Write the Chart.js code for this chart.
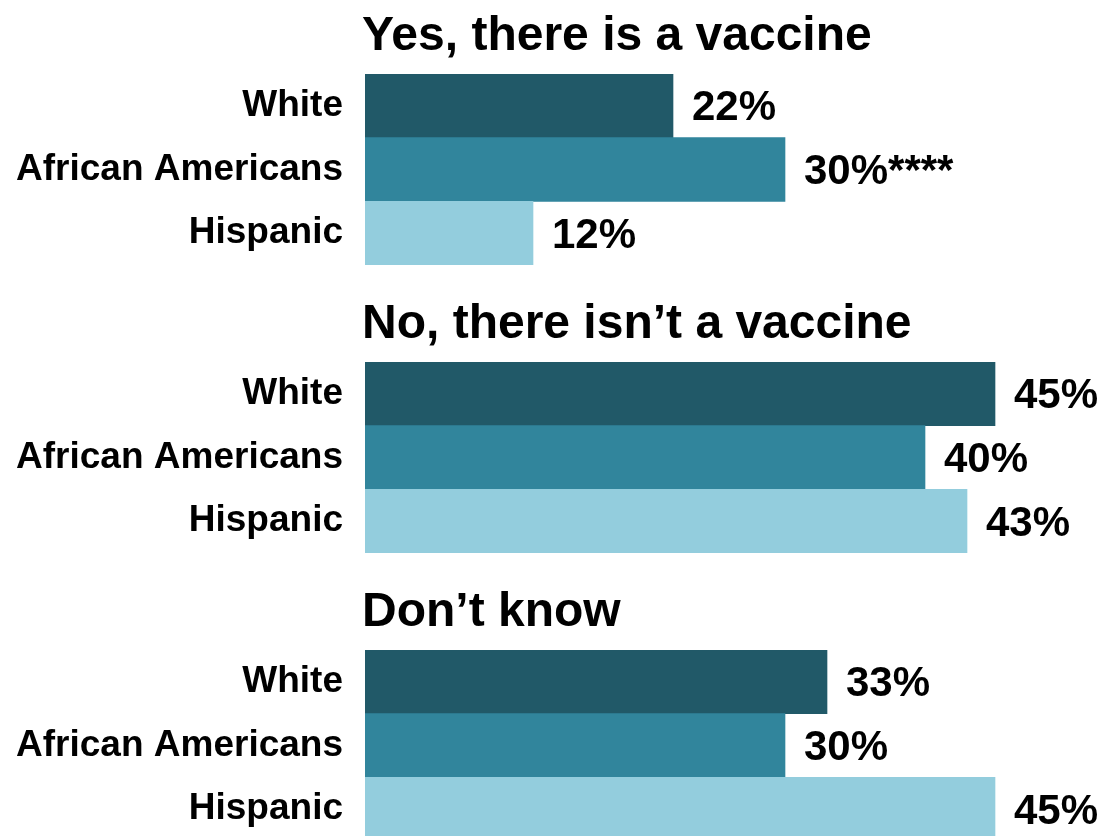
<!DOCTYPE html>
<html>
<head>
<meta charset="utf-8">
<script src="https://cdn.jsdelivr.net/npm/chart.js@4/dist/chart.umd.min.js"></script>
<style>
  html, body { margin: 0; padding: 0; background: #fff; overflow: hidden; }
  body { width: 1103px; height: 836px; position: relative; }
  .panel { position: absolute; left: 0; width: 1103px; height: 280px; }
</style>
</head>
<body>
<div class="panel" style="top:0px"><canvas id="c0"></canvas></div>
<div class="panel" style="top:288px"><canvas id="c1"></canvas></div>
<div class="panel" style="top:576px"><canvas id="c2"></canvas></div>
<script>
const groups = ["White", "African Americans", "Hispanic"];
const panelTitles = ["Yes, there is a vaccine", "No, there isn\u2019t a vaccine", "Don\u2019t know"];
const yesValues = [22, 30, 12];
const noValues = [45, 40, 43];
const dontKnowValues = [33, 30, 45];
const yesSuffixes = ["", "****", ""];
const noSuffixes = ["", "", ""];
const dontKnowSuffixes = ["", "", ""];
const barColors = ["#215968", "#31859C", "#93CDDD"];

const FONT = "'Liberation Sans', Arial, Helvetica, sans-serif";

const overlayPlugin = {
  id: 'overlay',
  afterDatasetsDraw(chart, args, opts) {
    const ctx = chart.ctx;
    const area = chart.chartArea;
    ctx.save();
    ctx.fillStyle = '#000';
    ctx.font = "bold 48px " + FONT;
    ctx.textAlign = 'left';
    ctx.textBaseline = 'alphabetic';
    ctx.fillText(opts.title, area.left - 3, area.top - 24);
    const meta = chart.getDatasetMeta(0);
    const data = chart.data.datasets[0].data;
    ctx.font = "bold 42px " + FONT;
    ctx.textBaseline = 'middle';
    meta.data.forEach((bar, i) => {
      ctx.fillText(data[i] + '%' + (opts.suffixes[i] || ''), bar.x + 19, bar.y + 3);
    });
    ctx.restore();
  }
};

function makeChart(id, title, values, suffixes) {
  new Chart(document.getElementById(id), {
    type: 'bar',
    data: {
      labels: groups,
      datasets: [{
        data: values,
        backgroundColor: barColors,
        borderWidth: 0,
        categoryPercentage: 1.0,
        barPercentage: 1.0
      }]
    },
    options: {
      indexAxis: 'y',
      responsive: true,
      maintainAspectRatio: false,
      animation: false,
      layout: { padding: { top: 74, bottom: 15, left: 0, right: 10 } },
      plugins: {
        legend: { display: false },
        tooltip: { enabled: false },
        overlay: { title: title, suffixes: suffixes }
      },
      scales: {
        x: {
          display: false,
          min: 0,
          max: 52
        },
        y: {
          grid: { display: false, drawTicks: false },
          border: { display: false },
          ticks: {
            color: '#000',
            padding: 22,
            font: { family: FONT, size: 37, weight: 'bold' }
          },
          afterFit(scale) {
            scale.width = 365;
            scale.paddingTop = 0;
            scale.paddingBottom = 0;
          }
        }
      }
    },
    plugins: [overlayPlugin]
  });
}

makeChart('c0', panelTitles[0], yesValues, yesSuffixes);
makeChart('c1', panelTitles[1], noValues, noSuffixes);
makeChart('c2', panelTitles[2], dontKnowValues, dontKnowSuffixes);
</script>
</body>
</html>
